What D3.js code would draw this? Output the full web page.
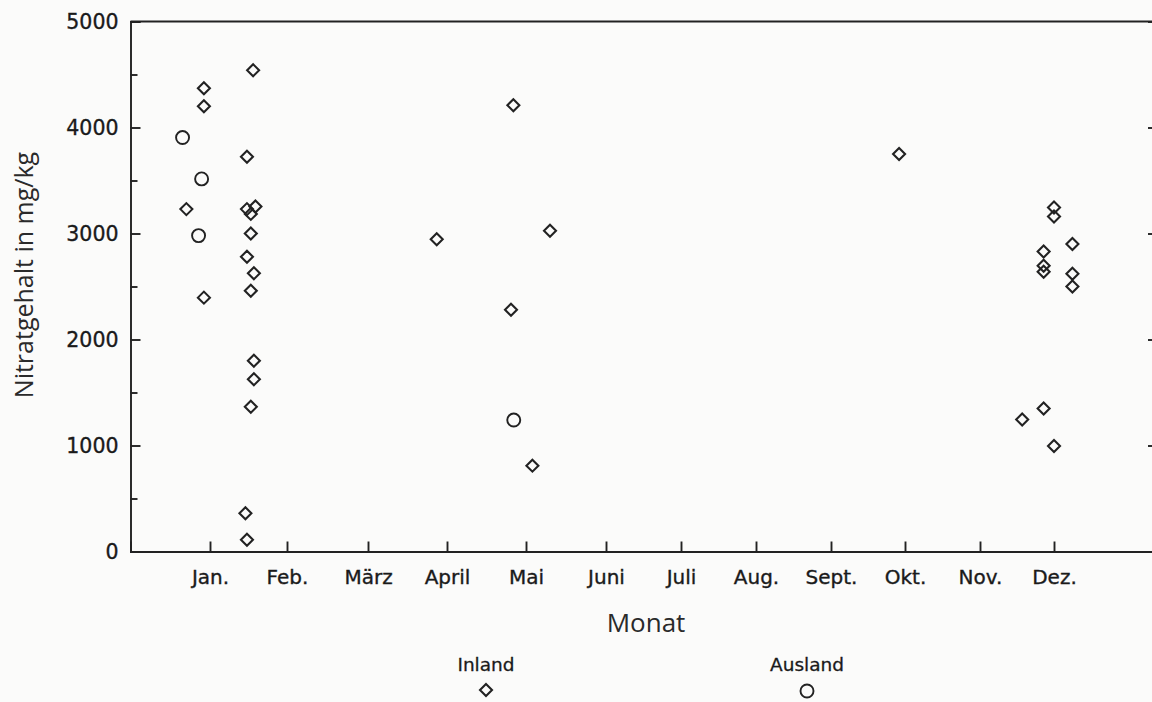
<!DOCTYPE html>
<html>
<head>
<meta charset="utf-8">
<script src="https://cdn.jsdelivr.net/npm/d3@7"></script>
<style>
  html, body { margin: 0; padding: 0; background: #fbfbfa; }
  svg { display: block; }
</style>
</head>
<body>
<svg id="chart" width="1152" height="702"></svg>
<script>
// ---- data (month position: 1 = Jan. tick, 12 = Dez. tick) ----
const monthLabels = ["Jan.", "Feb.", "März", "April", "Mai", "Juni", "Juli", "Aug.", "Sept.", "Okt.", "Nov.", "Dez."];
const monthTicks = [1, 2, 3, 4, 5, 6, 7, 8, 9, 10, 11, 12];
const yTicks = [0, 1000, 2000, 3000, 4000, 5000];
const yMinorTicks = [500, 1500, 2500, 3500, 4500];

const inlandMonth = [1.56, 0.92, 0.92, 1.48, 0.69, 1.48, 1.59, 1.53, 1.53, 1.48, 1.57, 1.53, 0.92, 1.57, 1.57, 1.53, 1.46, 1.48,
                     4.84, 3.87, 5.30, 4.81, 5.08,
                     9.92, 12.00, 12.00, 12.24, 11.86, 11.86, 11.86, 12.24, 12.24, 11.86, 11.57, 12.00];
const inlandValue = [4540, 4370, 4200, 3725, 3230, 3230, 3255, 3185, 3000, 2780, 2625, 2460, 2395, 1800, 1625, 1365, 360, 110,
                     4210, 2945, 3025, 2280, 810,
                     3750, 3245, 3160, 2900, 2830, 2695, 2640, 2620, 2500, 1350, 1245, 995];

const auslandMonth = [0.64, 0.89, 0.85, 4.845];
const auslandValue = [3905, 3515, 2980, 1240];

const legendLabels = ["Inland", "Ausland"];

// ---- layout ----
const svg = d3.select("#chart");
const mLeft = 130.5, mRight = 1153, mTop = 21.5, mBottom = 551.5;
const ink = "#222";

// the scanned month axis is slightly uneven: piecewise-linear month scale
const x = d3.scaleLinear()
  .domain([-0.043, 1, 2, 3, 4, 5, 6, 7, 8, 9, 10, 11, 12, 13.29])
  .range([mLeft, 210, 287, 368, 447, 526, 606, 681, 756, 831, 905, 980, 1054, mRight]);
const y = d3.scaleLinear().domain([0, 5000]).range([mBottom, mTop]);

// frame lines (top + right)
svg.append("line").attr("x1", mLeft).attr("x2", mRight).attr("y1", mTop).attr("y2", mTop)
  .attr("stroke", ink).attr("stroke-width", 1.9);
svg.append("line").attr("x1", mRight).attr("x2", mRight).attr("y1", mTop).attr("y2", mBottom)
  .attr("stroke", ink).attr("stroke-width", 1.9);

// left axis
const yAxis = svg.append("g").attr("transform", `translate(${mLeft},0)`)
  .call(d3.axisLeft(y).tickValues(yTicks).tickSize(-10).tickPadding(12).tickFormat(d3.format("d")));
svg.append("g").attr("transform", `translate(${mLeft},0)`)
  .call(d3.axisLeft(y).tickValues(yMinorTicks).tickSize(-7).tickFormat(""))
  .call(g => g.select(".domain").remove());

// right axis inward ticks
svg.append("g").attr("transform", `translate(${mRight},0)`)
  .call(d3.axisRight(y).tickValues(yTicks).tickSize(-5).tickFormat(""))
  .call(g => g.select(".domain").remove());

// bottom axis
const xAxis = svg.append("g").attr("transform", `translate(0,${mBottom})`)
  .call(d3.axisBottom(x).tickValues(monthTicks).tickSize(-10).tickPadding(18)
    .tickFormat((d, i) => monthLabels[i]));

svg.selectAll(".domain").attr("stroke", ink).attr("stroke-width", 1.9);
svg.selectAll(".tick line").attr("stroke", ink).attr("stroke-width", 1.9);
svg.selectAll(".tick text")
  .attr("fill", "#1a1a1a")
  .attr("stroke", "#1a1a1a")
  .attr("stroke-width", 0.35)
  .attr("font-family", "DejaVu Sans")
  .attr("font-size", 20);
yAxis.selectAll(".tick text").attr("font-size", 20.5);

// axis titles
svg.append("text")
  .attr("transform", `translate(33,275) rotate(-90)`)
  .attr("text-anchor", "middle")
  .attr("font-family", "Open Sans")
  .attr("font-size", 25)
  .attr("fill", "#2a2a2a")
  .text("Nitratgehalt in mg/kg");

svg.append("text")
  .attr("x", 646).attr("y", 632)
  .attr("text-anchor", "middle")
  .attr("font-family", "Open Sans")
  .attr("font-size", 26)
  .attr("fill", "#2a2a2a")
  .text("Monat");

// marks
const diamond = s => `M0,${-s}L${s},0L0,${s}L${-s},0Z`;

svg.append("g").selectAll("path")
  .data(inlandMonth.map((m, i) => [m, inlandValue[i]]))
  .join("path")
  .attr("transform", d => `translate(${x(d[0])},${y(d[1])})`)
  .attr("d", diamond(6))
  .attr("fill", "none")
  .attr("stroke", ink)
  .attr("stroke-width", 2.1);

svg.append("g").selectAll("circle")
  .data(auslandMonth.map((m, i) => [m, auslandValue[i]]))
  .join("circle")
  .attr("cx", d => x(d[0]))
  .attr("cy", d => y(d[1]))
  .attr("r", 6.5)
  .attr("fill", "none")
  .attr("stroke", ink)
  .attr("stroke-width", 1.9);

// legend
const legend = svg.append("g");
const legX = [486, 807];
legend.selectAll("text")
  .data(legendLabels)
  .join("text")
  .attr("x", (d, i) => legX[i])
  .attr("y", 671)
  .attr("text-anchor", "middle")
  .attr("font-family", "DejaVu Sans")
  .attr("font-size", 18.5)
  .attr("fill", "#1a1a1a")
  .attr("stroke", "#1a1a1a")
  .attr("stroke-width", 0.3)
  .text(d => d);
legend.append("path")
  .attr("transform", `translate(${legX[0]},690)`)
  .attr("d", diamond(6))
  .attr("fill", "none").attr("stroke", ink).attr("stroke-width", 2.1);
legend.append("circle")
  .attr("cx", legX[1]).attr("cy", 691).attr("r", 6.5)
  .attr("fill", "none").attr("stroke", ink).attr("stroke-width", 1.9);
</script>
</body>
</html>
